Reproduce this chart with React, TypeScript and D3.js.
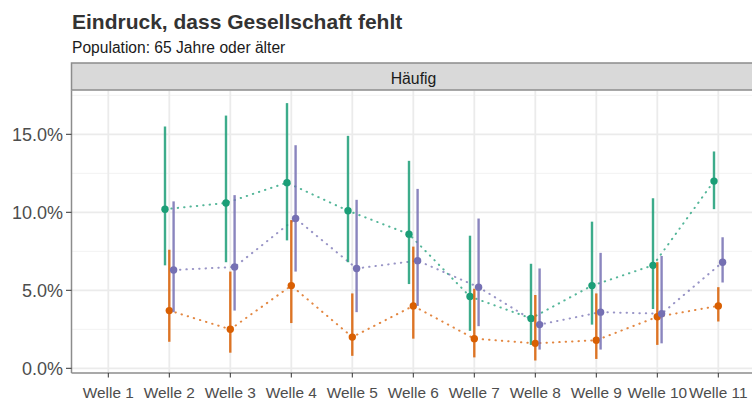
import React, { useEffect, useRef } from 'react';
import * as d3 from 'd3';

// Wellen (x-axis categories)
const waves = ['Welle 1', 'Welle 2', 'Welle 3', 'Welle 4', 'Welle 5', 'Welle 6', 'Welle 7', 'Welle 8', 'Welle 9', 'Welle 10', 'Welle 11'];

// Anteil "häufig", in Prozent (null = keine Daten)
const greenEst = [null, 10.2, 10.6, 11.9, 10.1, 8.6, 4.6, 3.2, 5.3, 6.6, 12.0];
const greenLo = [null, 6.6, 6.8, 8.2, 6.8, 5.4, 2.4, 1.5, 2.8, 3.8, 10.2];
const greenHi = [null, 15.5, 16.2, 17.0, 14.9, 13.3, 8.5, 6.7, 9.4, 10.9, 13.9];

const orangeEst = [null, 3.7, 2.5, 5.3, 2.0, 4.0, 1.9, 1.6, 1.8, 3.3, 4.0];
const orangeLo = [null, 1.7, 1.0, 2.9, 0.8, 1.9, 0.7, 0.5, 0.6, 1.5, 3.0];
const orangeHi = [null, 7.6, 6.2, 9.5, 4.8, 7.8, 5.1, 4.7, 4.8, 6.8, 5.2];

const purpleEst = [null, 6.3, 6.5, 9.6, 6.4, 6.9, 5.2, 2.8, 3.6, 3.5, 6.8];
const purpleLo = [null, 3.6, 3.7, 6.2, 3.6, 4.0, 2.7, 1.2, 1.2, 1.6, 5.5];
const purpleHi = [null, 10.7, 11.1, 14.3, 10.8, 11.5, 9.6, 6.4, 7.4, 7.2, 8.4];

const yTicks = [0, 5, 10, 15];
const yMinor = [2.5, 7.5, 12.5, 17.5];

const series = [
    { key: 'a', color: '#1B9E77', offset: -4.3, est: greenEst, lo: greenLo, hi: greenHi },
    { key: 'b', color: '#D95F02', offset: 0, est: orangeEst, lo: orangeLo, hi: orangeHi },
    { key: 'c', color: '#7570B3', offset: 4.3, est: purpleEst, lo: purpleLo, hi: purpleHi },
];

const App = () => {
    const svgRef = useRef(null);

    useEffect(() => {
        const svg = d3.select(svgRef.current);
        svg.selectAll('*').remove();

        const panel = { left: 72, right: 755, top: 90.5, bottom: 373 };
        const font = '"Liberation Sans", Arial, sans-serif';

        const x = d3.scalePoint().domain(waves).range([108.3, 718.3]);
        const y = d3.scaleLinear().domain([0, 15]).range([368.3, 134.3]);

        // Title
        svg.append('text')
            .attr('x', 72).attr('y', 29)
            .style('font-family', font).style('font-size', '21px').style('font-weight', 'bold')
            .style('fill', '#333333')
            .text('Eindruck, dass Gesellschaft fehlt');

        svg.append('text')
            .attr('x', 72).attr('y', 53)
            .style('font-family', font).style('font-size', '15.6px')
            .style('fill', '#1a1a1a')
            .text('Population: 65 Jahre oder älter');

        // Panel background + grid
        svg.append('rect')
            .attr('x', panel.left).attr('y', panel.top)
            .attr('width', panel.right - panel.left).attr('height', panel.bottom - panel.top)
            .attr('fill', '#ffffff');

        svg.append('g').selectAll('line')
            .data(yMinor)
            .enter().append('line')
            .attr('x1', panel.left).attr('x2', panel.right)
            .attr('y1', d => y(d)).attr('y2', d => y(d))
            .attr('stroke', '#F2F2F2').attr('stroke-width', 1);

        svg.append('g').selectAll('line')
            .data(yTicks)
            .enter().append('line')
            .attr('x1', panel.left).attr('x2', panel.right)
            .attr('y1', d => y(d)).attr('y2', d => y(d))
            .attr('stroke', '#EBEBEB').attr('stroke-width', 1.8);

        svg.append('g').selectAll('line')
            .data(waves)
            .enter().append('line')
            .attr('x1', d => x(d)).attr('x2', d => x(d))
            .attr('y1', panel.top).attr('y2', panel.bottom)
            .attr('stroke', '#EBEBEB').attr('stroke-width', 1.8);

        // Strip
        svg.append('rect')
            .attr('x', 71.5).attr('y', 63)
            .attr('width', panel.right - 71.5).attr('height', 27)
            .attr('fill', '#D9D9D9').attr('stroke', '#8C8C8C').attr('stroke-width', 1.5);

        svg.append('text')
            .attr('x', (panel.left + panel.right) / 2).attr('y', 84)
            .attr('text-anchor', 'middle')
            .style('font-family', font).style('font-size', '15.8px')
            .style('fill', '#1a1a1a')
            .text('Häufig');

        // Panel border (left + bottom)
        svg.append('line')
            .attr('x1', 71.5).attr('x2', 71.5).attr('y1', panel.top).attr('y2', panel.bottom)
            .attr('stroke', '#8C8C8C').attr('stroke-width', 1.5);
        svg.append('line')
            .attr('x1', 71.5).attr('x2', panel.right).attr('y1', panel.bottom).attr('y2', panel.bottom)
            .attr('stroke', '#8C8C8C').attr('stroke-width', 1.5);

        // Y axis
        const yAxis = svg.append('g');
        yAxis.selectAll('line')
            .data(yTicks)
            .enter().append('line')
            .attr('x1', 66).attr('x2', 71.5)
            .attr('y1', d => y(d)).attr('y2', d => y(d))
            .attr('stroke', '#333333').attr('stroke-width', 1);
        yAxis.selectAll('text')
            .data(yTicks)
            .enter().append('text')
            .attr('x', 63).attr('y', d => y(d))
            .attr('dy', '0.36em')
            .attr('text-anchor', 'end')
            .style('font-family', font).style('font-size', '18px')
            .style('fill', '#4D4D4D')
            .text(d => d3.format('.1f')(d) + '%');

        // X axis
        const xAxis = svg.append('g');
        xAxis.selectAll('line')
            .data(waves)
            .enter().append('line')
            .attr('x1', d => x(d)).attr('x2', d => x(d))
            .attr('y1', panel.bottom).attr('y2', panel.bottom + 4.5)
            .attr('stroke', '#333333').attr('stroke-width', 1);
        xAxis.selectAll('text')
            .data(waves)
            .enter().append('text')
            .attr('x', d => x(d)).attr('y', 397.5)
            .attr('text-anchor', 'middle')
            .style('font-family', font).style('font-size', '15.4px')
            .style('fill', '#4D4D4D')
            .text(d => d);

        // Dotted lines
        series.forEach(s => {
            const pts = waves.map((w, i) => ({ w, v: s.est[i] })).filter(d => d.v != null);
            svg.append('path')
                .datum(pts)
                .attr('fill', 'none')
                .attr('stroke', s.color)
                .attr('stroke-width', 2)
                .attr('stroke-opacity', 0.75)
                .attr('stroke-linecap', 'round')
                .attr('stroke-dasharray', '0.4,6')
                .attr('d', d3.line()
                    .x(d => x(d.w) + s.offset)
                    .y(d => y(d.v))
                );
        });

        // Error bars + points
        series.forEach(s => {
            const pts = waves.map((w, i) => ({ w, v: s.est[i], lo: s.lo[i], hi: s.hi[i] })).filter(d => d.v != null);
            const g = svg.append('g');
            g.selectAll('line')
                .data(pts)
                .enter().append('line')
                .attr('x1', d => x(d.w) + s.offset).attr('x2', d => x(d.w) + s.offset)
                .attr('y1', d => y(d.lo)).attr('y2', d => y(d.hi))
                .attr('stroke', s.color)
                .attr('stroke-width', 2.4)
                .attr('stroke-opacity', 0.85);
            g.selectAll('circle')
                .data(pts)
                .enter().append('circle')
                .attr('cx', d => x(d.w) + s.offset)
                .attr('cy', d => y(d.v))
                .attr('r', 3.7)
                .attr('fill', s.color);
        });
    }, []);

    return (
        <svg ref={svgRef} width={752} height={401}
            style={{ position: 'absolute', left: 0, top: 0, background: '#ffffff' }} />
    );
};

export default App;
